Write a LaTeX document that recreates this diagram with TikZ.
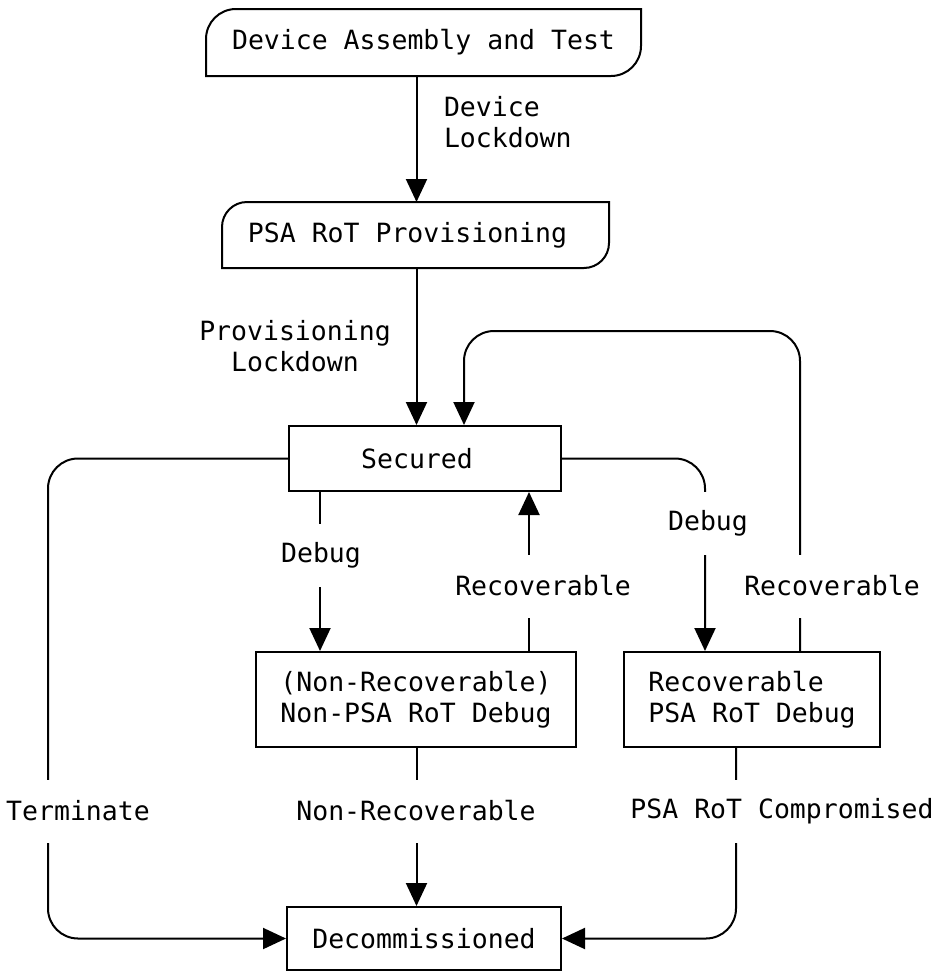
\documentclass[tikz,border=0pt]{standalone}
\usepackage{fontspec}
\newfontfamily\monofnt{DejaVu Sans Mono}
\usetikzlibrary{arrows.meta}
\begin{document}
\begin{tikzpicture}[x=1pt,y=1pt, line width=2pt,
  font=\monofnt\fontsize{26.5}{31}\selectfont,
  box/.style={draw, rectangle, inner sep=0pt},
  plain/.style={inner sep=0pt},
  lab/.style={fill=white, inner xsep=2pt, inner ysep=0pt, minimum height=63pt},
  conn/.style={-{Triangle[length=23pt,width=21pt]}},
  ]
\useasboundingbox (0,0) rectangle (936,-972);

% columns / rows used by connectors
\coordinate (axis) at (416.5,0);
\coordinate (dbgL) at (320,0);
\coordinate (recL) at (529,0);
\coordinate (dbgR) at (705,0);
\coordinate (recR) at (800,0);
\coordinate (loopX) at (464,0);
\coordinate (loopY) at (0,-331);
\coordinate (termX) at (48,0);
\coordinate (compX) at (736,0);

% states
\node[plain, minimum width=433pt, minimum height=65pt] (assy) at (423.5,-42.5) {Device Assembly and Test};
\draw (assy.south west) -- ([yshift=-30pt]assy.north west) arc[start angle=180,end angle=90,radius=30pt]
  -- (assy.north east) -- ([yshift=30pt]assy.south east) arc[start angle=0,end angle=-90,radius=30pt] -- cycle;

\node[plain, minimum width=385pt, minimum height=64pt] (prov) at (415.5,-235) {PSA RoT Provisioning\hspace*{16pt}};
\draw (prov.south west) -- ([yshift=-25pt]prov.north west) arc[start angle=180,end angle=90,radius=25pt]
  -- (prov.north east) -- ([yshift=25pt]prov.south east) arc[start angle=0,end angle=-90,radius=25pt] -- cycle;

\node[box, minimum width=272pt, minimum height=65pt] (sec) at (425,-458.5) {Secured\hspace*{16pt}};
\node[box, minimum width=320pt, minimum height=95pt, align=center] (nrd) at (416,-699.5) {(Non-Recoverable)\\Non-PSA RoT Debug};
\node[box, minimum width=256pt, minimum height=95pt, align=left] (rd) at (752,-699.5) {Recoverable\\PSA RoT Debug};
\node[box, minimum width=274pt, minimum height=63pt] (dec) at (424,-938.5) {Decommissioned};

% connectors
\draw[conn] (assy.south -| axis) -- (prov.north -| axis);
\draw[conn] (prov.south -| axis) -- (sec.north -| axis);
\draw[conn, rounded corners=30pt] (rd.north -| recR) -- (recR |- loopY) -- (loopX |- loopY) -- (sec.north -| loopX);
\draw[conn] (sec.south -| dbgL) -- (nrd.north -| dbgL);
\draw[conn] (nrd.north -| recL) -- (sec.south -| recL);
\draw[conn, rounded corners=30pt] (sec.east) -- (sec.east -| dbgR) -- (rd.north -| dbgR);
\draw[conn, rounded corners=30pt] (sec.west) -- (sec.west -| termX) -- (dec.west -| termX) -- (dec.west);
\draw[conn] (nrd.south -| axis) -- (dec.north -| axis);
\draw[conn, rounded corners=30pt] (rd.south -| compX) -- (dec.east -| compX) -- (dec.east);

% labels
\node[plain, align=left, anchor=west] (lDL) at (443,-122) {Device\\Lockdown};
\node[plain, align=center] (lPL) at (295,-346) {Provisioning\\Lockdown};
\node[lab] (lD1) at (321,-555) {Debug};
\node[lab] (lR1) at (543,-586) {Recoverable};
\node[lab] (lD2) at (708,-523) {Debug};
\node[lab] (lR2) at (832,-586) {Recoverable};
\node[lab] (lT) at (78,-811) {Terminate};
\node[lab] (lNR) at (416,-811) {Non-Recoverable};
\node[lab] (lC) at (782,-811) {PSA RoT Compromised};
\end{tikzpicture}
\end{document}
